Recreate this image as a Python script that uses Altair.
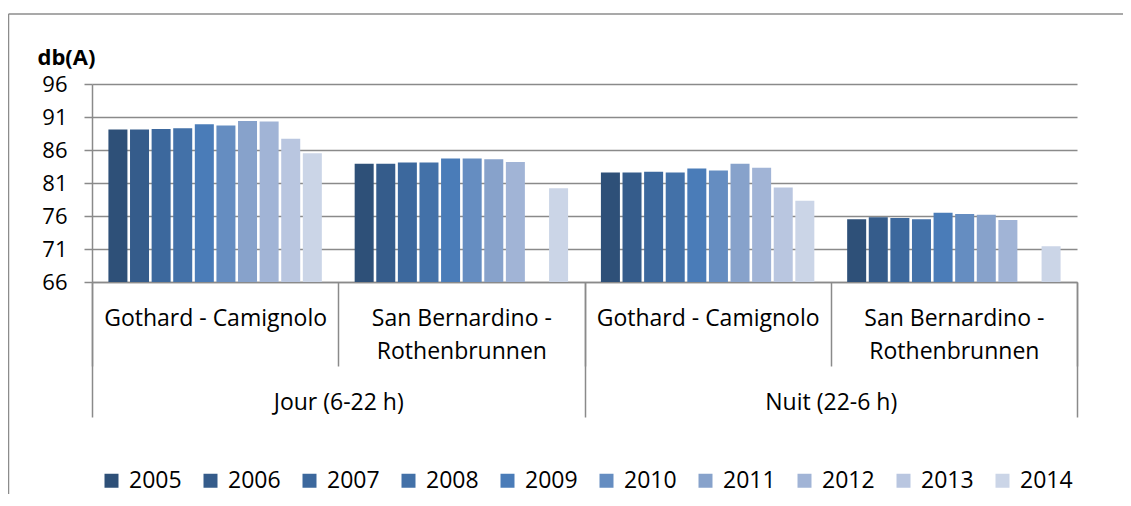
import altair as alt
import pandas as pd

periods = ["Jour (6-22 h)", "Nuit (22-6 h)"]
routes = ["Gothard - Camignolo", "San Bernardino -\nRothenbrunnen"]
years = [2005, 2006, 2007, 2008, 2009, 2010, 2011, 2012, 2013, 2014]

gothard_jour = [89.1, 89.1, 89.2, 89.3, 89.9, 89.7, 90.4, 90.3, 87.7, 85.5]
sanbern_jour = [83.9, 83.9, 84.1, 84.1, 84.7, 84.7, 84.6, 84.2, None, 80.2]
gothard_nuit = [82.6, 82.6, 82.7, 82.6, 83.2, 82.9, 83.9, 83.3, 80.3, 78.3]
sanbern_nuit = [75.5, 75.8, 75.7, 75.5, 76.5, 76.3, 76.2, 75.4, None, 71.4]

colors = ["#2E5078", "#355C8B", "#3C689D", "#4371A8", "#4A7CB8",
          "#658DC1", "#87A2CB", "#A1B4D6", "#B9C6E0", "#CBD5E7"]
y_ticks = [66, 71, 76, 81, 86, 91, 96]

series = [
    (periods[0], routes[0], gothard_jour),
    (periods[0], routes[1], sanbern_jour),
    (periods[1], routes[0], gothard_nuit),
    (periods[1], routes[1], sanbern_nuit),
]
rows = []
group_keys = []
for p, r, vals in series:
    key = p + "|" + r
    group_keys.append(key)
    for yr, v in zip(years, vals):
        rows.append({"group": key, "period": p, "year": yr, "value": v})
df = pd.DataFrame(rows)
df_period = pd.DataFrame({"period": periods})

FONT = "Open Sans"
GRID = "#8a8a8a"

bars = alt.Chart(df).mark_bar(clip=True).encode(
    x=alt.X("group:N", sort=group_keys, title=None,
            scale=alt.Scale(paddingInner=0, paddingOuter=0),
            axis=alt.Axis(orient="bottom", tickBand="extent", tickSize=84,
                          tickColor=GRID, tickWidth=1.5, domainColor=GRID,
                          domainWidth=1.5, labelAngle=0,
                          labelExpr="isValid(datum.label) && indexof(datum.label, '|') >= 0 ? split(split(datum.label, '|')[1], '\\n') : ''",
                          labelPadding=-59, labelBaseline="top",
                          labelLineHeight=33, labelFont=FONT, labelFontSize=23,
                          labelColor="#000000", labelLimit=400)),
    xOffset=alt.XOffset("year:N", scale=alt.Scale(paddingInner=0.12, paddingOuter=0.76)),
    y=alt.Y("value:Q", scale=alt.Scale(domain=[66, 96], zero=False, nice=False),
            axis=alt.Axis(values=y_ticks, title="db(A)", titleAngle=0,
                          titleAlign="left", titleBaseline="middle",
                          titleX=-55, titleY=-27, titleFont=FONT,
                          titleFontSize=22, titleFontWeight="bold",
                          titleColor="#000000",
                          grid=True, gridColor=GRID, gridWidth=1.5,
                          domainColor=GRID, domainWidth=1.5,
                          tickColor=GRID, tickWidth=1.5, tickSize=8,
                          labelFont=FONT, labelFontSize=22, labelColor="#000000",
                          labelPadding=17)),
    color=alt.Color("year:N", scale=alt.Scale(domain=years, range=colors),
                    legend=alt.Legend(title=None, orient="none", direction="horizontal",
                                      columns=10, legendX=8, legendY=385,
                                      symbolType="square", symbolSize=196,
                                      symbolStrokeWidth=0, labelFont=FONT,
                                      labelFontSize=23, labelColor="#000000",
                                      labelOffset=6, columnPadding=17)),
)

period_axis = alt.Chart(df_period).mark_point(opacity=0).encode(
    x=alt.X("period:N", sort=periods, title=None,
            scale=alt.Scale(paddingInner=0, paddingOuter=0),
            axis=alt.Axis(orient="bottom", tickBand="extent", tickSize=135,
                          tickColor=GRID, tickWidth=1.5, domain=False,
                          labelAngle=0, labelPadding=-26, labelBaseline="top",
                          labelExpr="isValid(datum.label) ? datum.label : ''",
                          labelFont=FONT, labelFontSize=23, labelColor="#000000")),
)

frame_data = alt.Data(values=[{"k": 1}])
frame_left = alt.Chart(frame_data).mark_rule(color="#8c8c8c", strokeWidth=1.5).encode(
    x=alt.value(-83.5), y=alt.value(-70), y2=alt.value(600))
frame_top = alt.Chart(frame_data).mark_rule(color="#8c8c8c", strokeWidth=1.5).encode(
    x=alt.value(-83.5), x2=alt.value(1200), y=alt.value(-70))

chart = alt.layer(frame_left, frame_top, bars, period_axis).resolve_scale(
    x="independent"
).properties(
    width=985, height=198,
    autosize=alt.AutoSizeParams(type="none"),
    padding={"left": 84, "top": 76, "right": 46, "bottom": 212},
).configure_view(stroke=None)

chart.save("out.html", embed_options={"renderer": "svg", "actions": False})
